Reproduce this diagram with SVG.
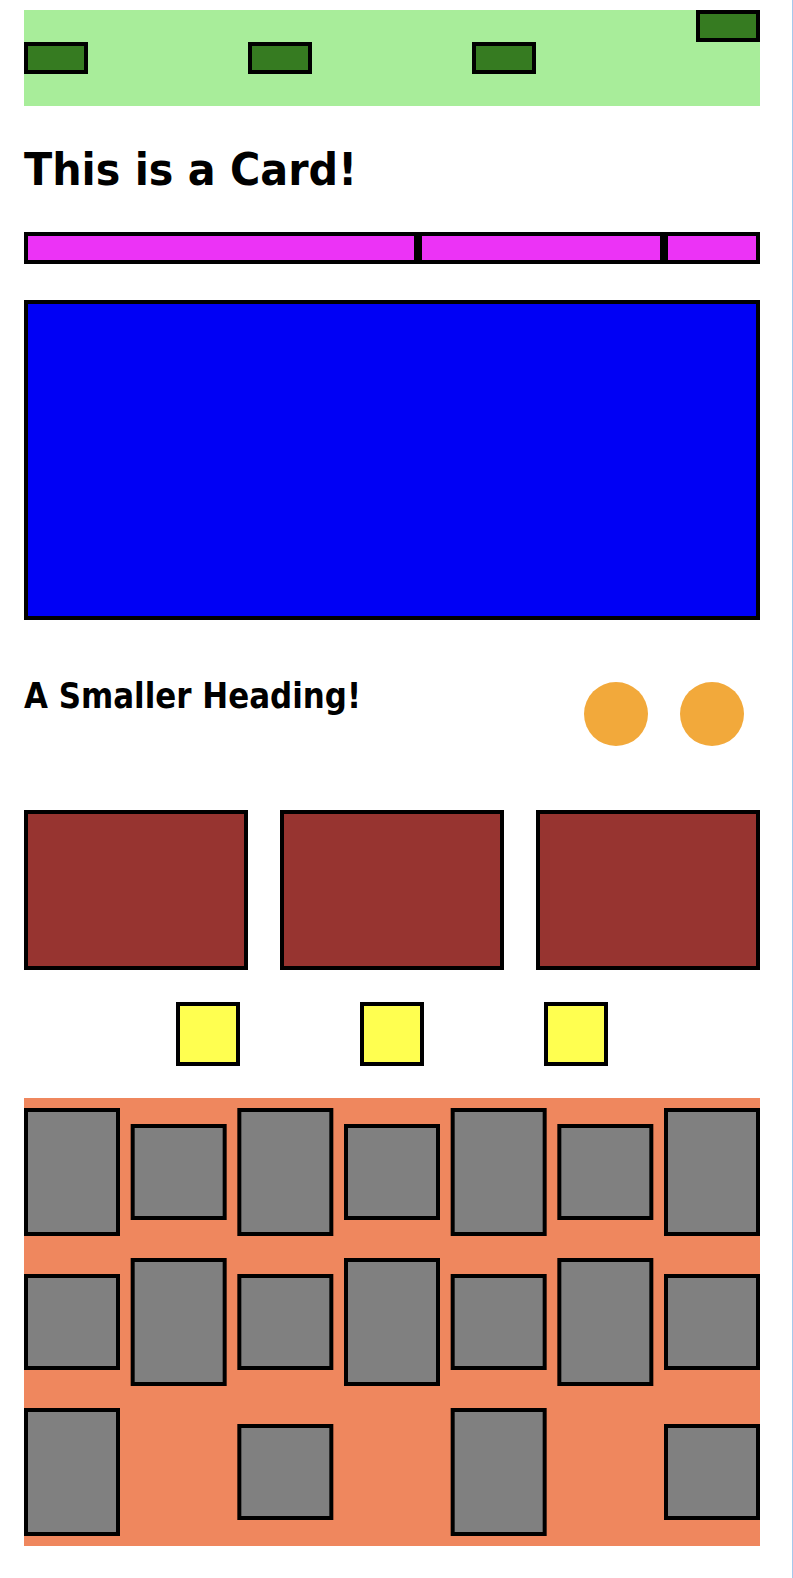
<svg xmlns="http://www.w3.org/2000/svg" width="793" height="1578" viewBox="0 0 793 1578">
<style>
.b{stroke:#000;stroke-width:4}
.dg{fill:#367b21}
.pk{fill:#ec33f6}
.br{fill:#973430}
.ye{fill:#ffff50}
.gr{fill:#808080}
.t{font-family:"DejaVu Sans","Liberation Sans",sans-serif;font-weight:bold;fill:#000}
</style>
<rect width="793" height="1578" fill="#fff"/>
<rect x="792" y="0" width="1" height="1578" fill="#a6c8ec"/>
<g id="header">
<rect x="24" y="10" width="736" height="96" fill="#a8ed9a"/>
<rect class="b dg" x="26" y="44" width="60" height="28"/>
<rect class="b dg" x="250" y="44" width="60" height="28"/>
<rect class="b dg" x="474" y="44" width="60" height="28"/>
<rect class="b dg" x="698" y="12" width="60" height="28"/>
</g>
<g id="title"><text class="t" x="24" y="185" font-size="44" textLength="333" lengthAdjust="spacingAndGlyphs">This is a Card!</text></g>
<g id="tabs">
<rect class="b pk" x="26" y="234" width="390" height="28"/>
<rect class="b pk" x="420" y="234" width="242" height="28"/>
<rect class="b pk" x="666" y="234" width="92" height="28"/>
</g>
<g id="hero"><rect class="b" x="26" y="302" width="732" height="316" fill="#0000f5"/></g>
<g id="subheading"><text class="t" x="24" y="708" font-size="36" textLength="337" lengthAdjust="spacingAndGlyphs">A Smaller Heading!</text></g>
<g id="dots">
<circle cx="616" cy="714" r="32" fill="#f2a93b"/>
<circle cx="712" cy="714" r="32" fill="#f2a93b"/>
</g>
<g id="cards">
<rect class="b br" x="26" y="812" width="220" height="156"/>
<rect class="b br" x="282" y="812" width="220" height="156"/>
<rect class="b br" x="538" y="812" width="220" height="156"/>
</g>
<g id="squares">
<rect class="b ye" x="178" y="1004" width="60" height="60"/>
<rect class="b ye" x="362" y="1004" width="60" height="60"/>
<rect class="b ye" x="546" y="1004" width="60" height="60"/>
</g>
<g id="grid">
<rect x="24" y="1098" width="736" height="448" fill="#ef875e"/>
<rect class="b gr" x="26" y="1110" width="92" height="124"/>
<rect class="b gr" x="132.67" y="1126" width="92" height="92"/>
<rect class="b gr" x="239.33" y="1110" width="92" height="124"/>
<rect class="b gr" x="346" y="1126" width="92" height="92"/>
<rect class="b gr" x="452.67" y="1110" width="92" height="124"/>
<rect class="b gr" x="559.33" y="1126" width="92" height="92"/>
<rect class="b gr" x="666" y="1110" width="92" height="124"/>
<rect class="b gr" x="26" y="1276" width="92" height="92"/>
<rect class="b gr" x="132.67" y="1260" width="92" height="124"/>
<rect class="b gr" x="239.33" y="1276" width="92" height="92"/>
<rect class="b gr" x="346" y="1260" width="92" height="124"/>
<rect class="b gr" x="452.67" y="1276" width="92" height="92"/>
<rect class="b gr" x="559.33" y="1260" width="92" height="124"/>
<rect class="b gr" x="666" y="1276" width="92" height="92"/>
<rect class="b gr" x="26" y="1410" width="92" height="124"/>
<rect class="b gr" x="239.33" y="1426" width="92" height="92"/>
<rect class="b gr" x="452.67" y="1410" width="92" height="124"/>
<rect class="b gr" x="666" y="1426" width="92" height="92"/>
</g>
<g id="connectors"/>
</svg>
